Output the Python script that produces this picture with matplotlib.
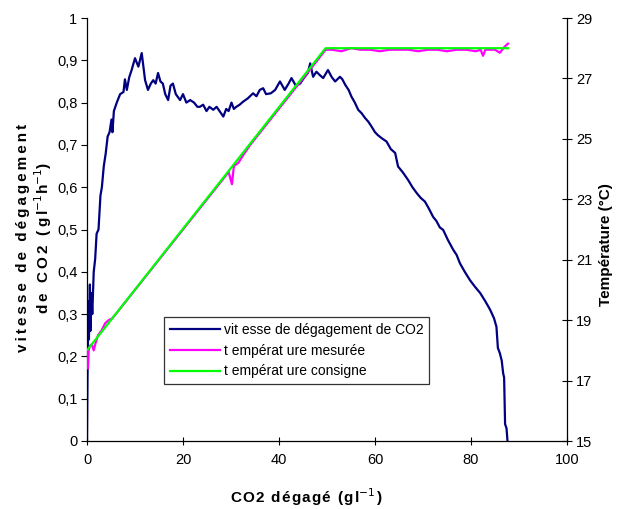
import matplotlib
matplotlib.use("Agg")
import matplotlib.pyplot as plt
from matplotlib.lines import Line2D

plt.rcParams['font.family'] = ['Liberation Sans', 'DejaVu Sans']

# vitesse de degagement de CO2
co2_x = [0, 0.1, 0.2, 0.3, 0.4, 0.5, 0.6, 0.7, 0.9, 1.1, 1.4, 1.7, 2.0, 2.4, 2.8, 3.1, 3.5,
         3.9, 4.3, 4.7, 5.1, 5.3, 5.6, 6.2, 6.9, 7.6, 7.9, 8.3, 8.8, 9.3, 10.0, 10.7, 11.4,
         12.1, 12.7, 13.3, 13.8, 14.3, 14.8, 15.3, 15.8, 16.3, 16.9, 17.4, 17.9, 18.5, 19.4,
         20.0, 20.7, 21.5, 22.3, 23.0, 23.5, 24.2, 24.9, 25.5, 26.3, 27.0, 27.6, 28.4, 29.0,
         29.5, 30.1, 30.6, 31.1, 31.8, 32.5, 33.5, 34.6, 35.3, 36.0, 36.7, 37.3, 38.3, 39.2,
         40.2, 41.2, 42.0, 42.6, 43.5, 44.4, 45.3, 46.0, 46.5, 47.1, 47.8, 48.5, 49.2, 50.2,
         51.0, 51.7, 52.7, 53.2, 53.8, 54.5, 55.1, 55.8, 56.5, 57.2, 57.9, 58.6, 59.3, 60.0,
         60.6, 61.5, 62.4, 63.3, 64.2, 64.8, 65.8, 66.9, 67.8, 68.7, 69.5, 70.4, 71.2, 72.1,
         72.8, 73.5, 74.2, 75.2, 76.3, 77.0, 77.7, 78.7, 79.8, 80.8, 81.9, 83.0, 84.0, 84.8,
         85.3, 85.6, 86.0, 86.4, 86.7, 86.9, 87.1, 87.4, 87.6]
co2_y = [0, 0.15, 0.25, 0.33, 0.24, 0.30, 0.37, 0.26, 0.35, 0.30, 0.40, 0.43, 0.49, 0.50, 0.58,
         0.60, 0.65, 0.68, 0.72, 0.73, 0.76, 0.73, 0.78, 0.80, 0.82, 0.825, 0.855, 0.83, 0.86,
         0.877, 0.905, 0.885, 0.917, 0.853, 0.83, 0.845, 0.853, 0.845, 0.87, 0.85, 0.845, 0.82,
         0.806, 0.84, 0.845, 0.82, 0.806, 0.82, 0.80, 0.806, 0.80, 0.79, 0.79, 0.795, 0.78,
         0.79, 0.783, 0.79, 0.78, 0.767, 0.785, 0.78, 0.80, 0.785, 0.79, 0.795, 0.802, 0.81,
         0.822, 0.815, 0.83, 0.834, 0.82, 0.822, 0.83, 0.85, 0.83, 0.845, 0.858, 0.84, 0.845,
         0.86, 0.87, 0.893, 0.861, 0.873, 0.865, 0.858, 0.877, 0.86, 0.85, 0.861, 0.855, 0.842,
         0.83, 0.814, 0.80, 0.783, 0.775, 0.764, 0.755, 0.743, 0.73, 0.723, 0.715, 0.708, 0.69,
         0.681, 0.649, 0.635, 0.617, 0.60, 0.586, 0.575, 0.566, 0.55, 0.53, 0.52, 0.505, 0.499,
         0.475, 0.452, 0.44, 0.42, 0.40, 0.38, 0.365, 0.35, 0.33, 0.31, 0.29, 0.27, 0.22, 0.208,
         0.19, 0.16, 0.15, 0.04, 0.03, 0.0]

# temperature mesuree
tm_x = [0, 0.1, 0.2, 0.35, 0.6, 1.0, 1.4, 1.8, 2.3, 3.0, 3.8, 4.5, 5.2, 6.0, 7.5, 9.0, 10.5,
        12, 14, 16, 18, 19.5, 21, 23, 25, 27, 29.5, 30.2, 30.6, 31.5, 32.5, 34, 36, 38, 40,
        42, 44, 46, 48, 49.7, 51, 53, 55, 57, 59, 61, 63, 65, 67, 69, 71, 73, 75, 77, 79, 81,
        82, 82.5, 83, 85, 86, 87, 87.7]
tm_y = [17.9, 17.45, 17.4, 18.0, 18.15, 18.2, 18.0, 18.25, 18.5, 18.65, 18.9, 19.0, 19.05,
        19.2, 19.5, 19.8, 20.1, 20.4, 20.8, 21.2, 21.6, 21.9, 22.2, 22.6, 23.0, 23.4, 23.9,
        23.5, 24.1, 24.2, 24.45, 24.8, 25.2, 25.6, 26.0, 26.4, 26.8, 27.2, 27.6, 27.95, 27.95,
        27.9, 28.0, 27.95, 27.95, 27.9, 27.95, 27.95, 27.95, 27.9, 27.95, 27.95, 27.9, 27.95,
        27.95, 27.9, 27.95, 27.75, 27.95, 27.95, 27.85, 28.05, 28.15]

# temperature consigne
tc_x = [0, 49.7, 87.7]
tc_y = [18, 28, 28]

left_ticks = [0, 0.1, 0.2, 0.3, 0.4, 0.5, 0.6, 0.7, 0.8, 0.9, 1]
left_labels = ["0", "0,1", "0,2", "0,3", "0,4", "0,5", "0,6", "0,7", "0,8", "0,9", "1"]
right_ticks = [15, 17, 19, 21, 23, 25, 27, 29]
x_ticks = [0, 20, 40, 60, 80, 100]

fig = plt.figure(figsize=(6.26, 5.09), dpi=100)
ax = fig.add_axes([87 / 626, 68 / 509, 480 / 626, 423 / 509])
ax2 = ax.twinx()

ax.plot(co2_x, co2_y, color='#000080', lw=1.6)
ax2.plot(tm_x, tm_y, color='#ff00ff', lw=1.6)
ax2.plot(tc_x, tc_y, color='#00ff00', lw=1.6)

ax.set_xlim(0, 100)
ax.set_ylim(0, 1)
ax2.set_ylim(15, 29)
ax.set_xticks(x_ticks)
ax.set_yticks(left_ticks)
ax.set_yticklabels(left_labels)
ax2.set_yticks(right_ticks)

for a in (ax, ax2):
    a.spines['top'].set_visible(False)
    for s in a.spines.values():
        s.set_linewidth(0.9)
ax.spines['right'].set_visible(False)
ax2.spines['left'].set_visible(False)
ax2.spines['bottom'].set_visible(False)

ax.tick_params(axis='y', direction='out', length=4, labelsize=10.5, pad=3)
ax.tick_params(axis='x', direction='inout', length=6, labelsize=10.5, pad=6)
ax2.tick_params(axis='y', direction='inout', length=7, labelsize=10.5, pad=3)

ts = "\u2009"
hs = "\u200a"
def spaced(s, sep=ts):
    return sep.join(s)

ax.set_xlabel(spaced("CO2 dégagé (gl", hs) + "$^{-1}$" + hs + ")", fontsize=11, fontweight='bold')
ax.xaxis.set_label_coords(0.456, -0.108)
ax.set_ylabel(spaced("vitesse de dégagement") + "\n" + spaced("de CO2 (gl") + "$^{-1}$" + spaced("h") + "$^{-1}$" + ")",
              fontsize=11, fontweight='bold', linespacing=1.15)
ax.yaxis.set_label_coords(-0.068, 0.48)
ax2.set_ylabel("Température (°C)", fontsize=11, fontweight='bold')
ax2.yaxis.set_label_coords(1.066, 0.465)

handles = [Line2D([], [], color='#000080', lw=1.6),
           Line2D([], [], color='#ff00ff', lw=1.6),
           Line2D([], [], color='#00ff00', lw=1.6)]
labels = ["vit esse de dégagement de CO2", "t empérat ure mesurée", "t empérat ure consigne"]
leg = fig.legend(handles, labels, loc='upper left', bbox_to_anchor=(164 / 626, 1 - 317 / 509),
                 fontsize=10, frameon=True, fancybox=False, handlelength=3.6, handletextpad=0.3,
                 borderpad=0.4, labelspacing=0.5, borderaxespad=0)
leg.get_frame().set_edgecolor('black')
leg.get_frame().set_linewidth(0.9)

fig.savefig("out.png", dpi=100)
